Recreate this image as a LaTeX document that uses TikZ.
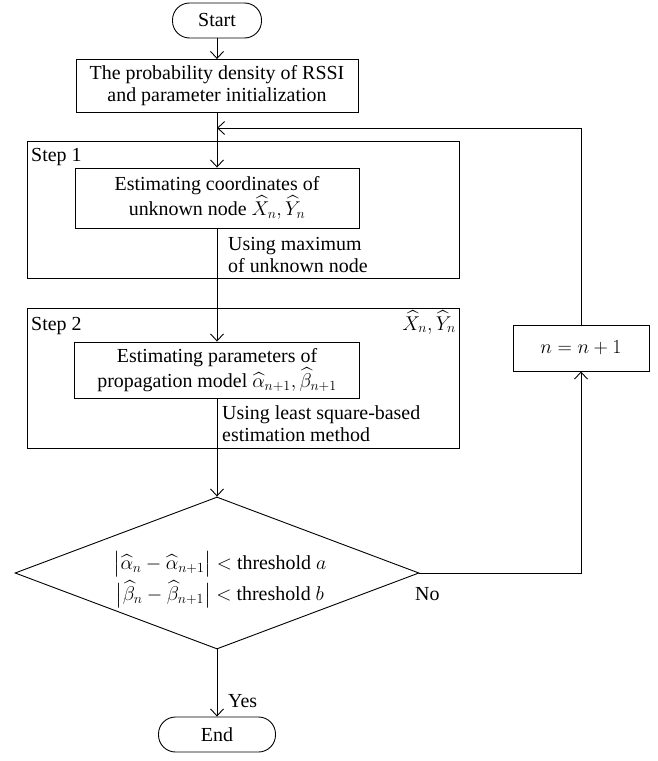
\documentclass[tikz,border=0pt]{standalone}
\usepackage{fix-cm}
\usepackage{amsmath}
\usepackage{fontspec}
\setmainfont{Liberation Serif}
\usetikzlibrary{arrows.meta,shapes.geometric}
\begin{document}
\begin{tikzpicture}[x=1bp,y=-1bp,
  every node/.style={font=\fontsize{20}{22}\selectfont, inner sep=0pt},
  box/.style={draw, line width=0.9bp, align=center},
  frame/.style={draw, line width=0.9bp},
  arr/.style={-{Straight Barb[length=7bp,width=13bp]}, line width=0.9bp},
  lbl/.style={anchor=base west, align=left},
  ]
\useasboundingbox (0,0) rectangle (658,761);
% nodes
\node[box, rounded corners=17bp, minimum width=89bp, minimum height=35bp] (start) at (217,20.5) {Start};
\node[box, minimum width=282bp, minimum height=53bp] (init) at (217,86) {The probability density of RSSI\\and parameter initialization};
\node[frame, minimum width=432bp, minimum height=137bp] (step1) at (243,209.5) {};
\node[box, minimum width=284bp, minimum height=60bp] (est1) at (217,198) {Estimating coordinates of\\unknown node $\widehat{X}_n, \widehat{Y}_n$};
\node[lbl] (s1) at (31,161) {Step 1};
\node[lbl] (u1) at (228,272) {Using maximum\\of unknown node};
\node[frame, minimum width=432bp, minimum height=140bp] (step2) at (243,378) {};
\node[box, minimum width=285bp, minimum height=56bp] (est2) at (217,370) {Estimating parameters of\\propagation model $\widehat{\alpha}_{n+1}, \widehat{\beta}_{n+1}$};
\node[lbl] (s2) at (31,330) {Step 2};
\node[anchor=base east] (xy) at (456,330) {$\widehat{X}_n, \widehat{Y}_n$};
\node[lbl] (u2) at (222,441) {Using least square-based\\estimation method};
\node[draw, line width=0.9bp, diamond, aspect=2.66, minimum width=404bp, minimum height=152bp] (dec) at (217,573) {};
\node[align=center] (cond) at (220,580)
  {$\bigl|\widehat{\alpha}_n - \widehat{\alpha}_{n+1}\bigr| <$ threshold $a$\\[3bp]$\bigl|\widehat{\beta}_n - \widehat{\beta}_{n+1}\bigr| <$ threshold $b$};
\node[box, minimum width=136bp, minimum height=46bp] (inc) at (581,348) {$n = n + 1$};
\node[box, rounded corners=17bp, minimum width=117bp, minimum height=35bp] (end) at (217,734.5) {End};
\node[anchor=base west] (yes) at (228,707) {Yes};
\node[anchor=base west] (no) at (415,600) {No};
\coordinate (join) at (217,128);
% connectors
\draw[arr] (start.south) -- (init.north);
\draw[arr] (init.south) -- (est1.north);
\draw[arr] (est1.south) -- (est2.north);
\draw[arr] (est2.south) -- (dec.north);
\draw[arr] (dec.south) -- (end.north);
\draw[arr] (dec.east) -| (inc.south);
\draw[arr] (inc.north) |- (join);
\end{tikzpicture}
\end{document}
